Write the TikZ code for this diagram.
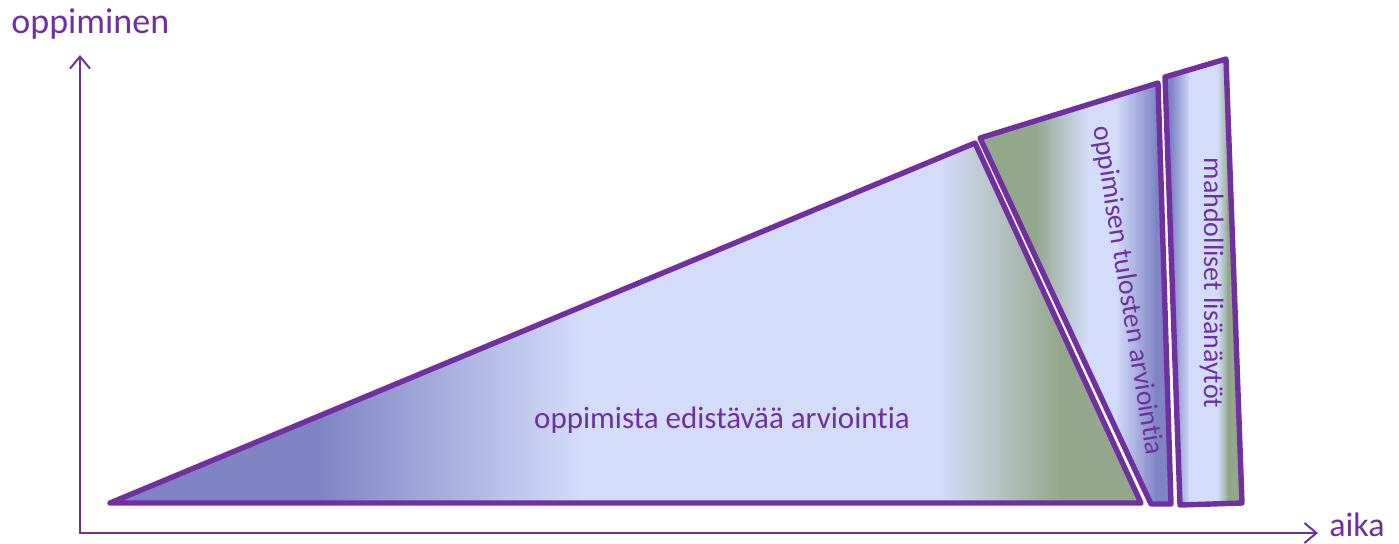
\documentclass[tikz,border=0pt]{standalone}
\usepackage{fontspec}
\setmainfont{Carlito}[Ligatures=NoCommon]
\usetikzlibrary{arrows.meta}
\definecolor{purp}{HTML}{7030A0}
\definecolor{dblue}{HTML}{7F84C4}
\definecolor{lblue}{HTML}{D3DDF9}
\definecolor{sgreen}{HTML}{93A78A}
\begin{document}
\begin{tikzpicture}[x=0.5pt,y=-0.5pt,
  outline/.style={draw=purp,line width=2.7pt,line join=round},
  axisline/.style={draw=purp,line width=1pt,
    {Straight Barb[length=6pt,width=10pt,line width=1pt]}-{Straight Barb[length=6pt,width=10pt,line width=1pt]}},
  lbl/.style={text=purp,inner sep=0pt}]
\useasboundingbox (0,0) rectangle (1399,543);
% axes
\coordinate (O) at (80,533);
\coordinate (ytip) at (80,55);
\coordinate (xtip) at (1318,533);
\draw[axisline] (ytip) -- (O) -- (xtip);
% main triangle
\coordinate (a1) at (110,503);
\coordinate (a2) at (975,143);
\coordinate (a3) at (1141,503);
\begin{scope}
\clip (a1) -- (a2) -- (a3) -- cycle;
\fill[dblue] (100,100) rectangle (322,515);
\shade[left color=dblue,right color=lblue] (320,100) rectangle (582,515);
\fill[lblue] (580,100) rectangle (942,515);
\shade[left color=lblue,right color=sgreen] (940,100) rectangle (1062,515);
\fill[sgreen] (1060,100) rectangle (1150,515);
\end{scope}
\draw[outline] (a1) -- (a2) -- (a3) -- cycle;
% second polygon
\coordinate (b1) at (980,138);
\coordinate (b2) at (1158,83);
\coordinate (b3) at (1171,504);
\coordinate (b4) at (1151,504);
\begin{scope}
\clip (b1) -- (b2) -- (b3) -- (b4) -- cycle;
\fill[sgreen] (970,70) rectangle (1037,515);
\shade[left color=sgreen,right color=lblue] (1035,70) rectangle (1087,515);
\fill[lblue] (1085,70) rectangle (1117,515);
\shade[left color=lblue,right color=dblue] (1115,70) rectangle (1157,515);
\fill[dblue] (1155,70) rectangle (1180,515);
\end{scope}
\draw[outline] (b1) -- (b2) -- (b3) -- (b4) -- cycle;
% third polygon
\coordinate (c1) at (1165,77);
\coordinate (c2) at (1226,59);
\coordinate (c3) at (1242,503);
\coordinate (c4) at (1180,505);
\begin{scope}
\clip (c1) -- (c2) -- (c3) -- (c4) -- cycle;
\fill[dblue] (1160,50) rectangle (1173,515);
\shade[left color=dblue,right color=lblue] (1171,50) rectangle (1191,515);
\fill[lblue] (1189,50) rectangle (1219,515);
\shade[left color=lblue,right color=sgreen] (1217,50) rectangle (1229,515);
\fill[sgreen] (1227,50) rectangle (1250,515);
\end{scope}
\draw[outline] (c1) -- (c2) -- (c3) -- (c4) -- cycle;
% labels
\node[lbl,font=\fontsize{15.5pt}{18pt}\selectfont,anchor=base] (t1) at (722,428) {oppimista edistävää arviointia};
\node[lbl,font=\fontsize{14pt}{17pt}\selectfont,rotate=-80.7,anchor=base] (t2) at (1120,292) {oppimisen tulosten arviointia};
\node[lbl,font=\fontsize{14pt}{17pt}\selectfont,rotate=-90,anchor=base] (t3) at (1204,283) {mahdolliset lisänäytöt};
\node[lbl,font=\fontsize{18pt}{20pt}\selectfont,anchor=base west] (ylab) at (11,33) {oppiminen};
\node[lbl,font=\fontsize{17pt}{20pt}\selectfont,anchor=base west] (xlab) at (1329,536) {aika};
\end{tikzpicture}
\end{document}
